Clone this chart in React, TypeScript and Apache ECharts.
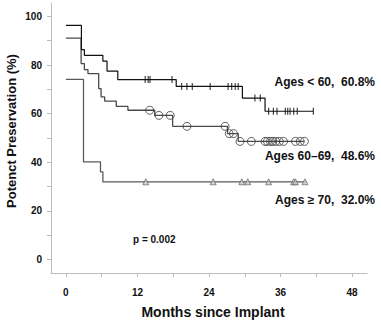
import React, { useEffect, useRef } from "react";
import * as echarts from "echarts";

// ---- data ----
// Ages < 60
const youngStart = 96.3;
const youngDropTimes = [2.6, 3.1, 6.2, 6.9, 8.7, 18.5, 29.6, 33.4];
const youngDropValues = [86.3, 84.0, 81.6, 77.5, 74.0, 71.2, 66.4, 61.0];
const youngEnd = 41.5;
const youngCensor = [13.3, 13.8, 14.1, 17.8, 19.4, 20.3, 21.2, 24.2, 27.2, 27.8, 28.4, 28.9, 31.7, 32.6, 34.0, 34.8, 35.4, 36.8, 37.2, 37.6, 38.2, 38.8, 41.5];

// Ages 60-69
const midStart = 91.1;
const midDropTimes = [2.55, 3.1, 3.7, 5.5, 5.9, 6.5, 8.45, 10.4, 14.9, 17.9, 27.1, 28.9];
const midDropValues = [80.6, 78.1, 76.5, 70.3, 66.9, 65.2, 63.0, 61.4, 59.3, 54.8, 51.8, 48.6];
const midEnd = 40.0;
const midCensor = [14.05, 15.6, 17.5, 20.3, 26.7, 27.4, 28.1, 29.2, 31.1, 33.4, 33.8, 34.3, 34.7, 35.2, 35.8, 36.5, 38.5, 39.3, 40.0];

// Ages >= 70
const oldStart = 74.1;
const oldDropTimes = [2.95, 5.8, 6.2];
const oldDropValues = [40.2, 36.1, 32.0];
const oldEnd = 40.3;
const oldCensor = [13.4, 24.7, 29.5, 30.5, 34.0, 38.2, 38.5, 40.1];

const xTicks = [0, 6, 12, 18, 24, 30, 36, 42, 48];
const xLabels = [0, 12, 24, 36, 48];
const yTicks = [0, 10, 20, 30, 40, 50, 60, 70, 80, 90, 100];
const yLabels = [0, 20, 40, 60, 80, 100];

const legendTexts = ["Ages < 60,  60.8%", "Ages 60\u201369,  48.6%", "Ages \u2265 70,  32.0%"];
const pText = "p = 0.002";
const xTitle = "Months since Implant";
const yTitle = "Potenct Preservation (%)";

const FONT = "Arial, 'Liberation Sans', Helvetica, sans-serif";

function stepPath(start: number, times: number[], values: number[], end: number) {
  const pts: number[][] = [[0, start]];
  let prev = start;
  times.forEach((t, i) => {
    pts.push([t, prev]);
    pts.push([t, values[i]]);
    prev = values[i];
  });
  pts.push([end, prev]);
  return pts;
}

function valueAt(start: number, times: number[], values: number[], t: number) {
  let v = start;
  times.forEach((tt, i) => {
    if (tt <= t) v = values[i];
  });
  return v;
}

export default function App() {
  const ref = useRef<HTMLDivElement>(null);
  useEffect(() => {
    if (!ref.current) return;
    const chart = echarts.init(ref.current, null, { renderer: "svg" });
    const axisColor = "#bdbdbd";
    const labelStyle = { color: "#111", fontWeight: "bold" as const, fontSize: 10, fontFamily: FONT };
    chart.setOption({
      animation: false,
      backgroundColor: "#fff",
      grid: { left: 51, right: 14, top: 3, bottom: 49 },
      xAxis: {
        type: "value",
        min: -2.5,
        max: 50.5,
        axisLine: { show: true, onZero: false, lineStyle: { color: axisColor, width: 1 } },
        axisTick: { show: true, customValues: xTicks, length: 4, lineStyle: { color: axisColor } },
        axisLabel: { customValues: xLabels, margin: 14, ...labelStyle },
        splitLine: { show: false },
      },
      yAxis: {
        type: "value",
        min: -5.5,
        max: 105.5,
        axisLine: { show: true, onZero: false, lineStyle: { color: axisColor, width: 1 } },
        axisTick: { show: true, customValues: yTicks, length: 4, lineStyle: { color: axisColor } },
        axisLabel: { customValues: yLabels, margin: 9, ...labelStyle },
        splitLine: { show: false },
      },
      series: [
        {
          type: "line",
          data: stepPath(oldStart, oldDropTimes, oldDropValues, oldEnd),
          showSymbol: false,
          lineStyle: { color: "#5a5a5a", width: 1.3 },
          z: 2,
        },
        {
          type: "line",
          data: stepPath(midStart, midDropTimes, midDropValues, midEnd),
          showSymbol: false,
          lineStyle: { color: "#4a4a4a", width: 1.3 },
          z: 2,
        },
        {
          type: "line",
          data: stepPath(youngStart, youngDropTimes, youngDropValues, youngEnd),
          showSymbol: false,
          lineStyle: { color: "#111", width: 1.2 },
          z: 3,
        },
        {
          type: "scatter",
          data: youngCensor.map((t) => [t, valueAt(youngStart, youngDropTimes, youngDropValues, t)]),
          symbol: "rect",
          symbolSize: [1.2, 7],
          itemStyle: { color: "#111" },
          z: 4,
        },
        {
          type: "scatter",
          data: midCensor.map((t) => [t, valueAt(midStart, midDropTimes, midDropValues, t)]),
          symbol: "circle",
          symbolSize: 8,
          itemStyle: { color: "rgba(255,255,255,0)", borderColor: "#3a3a3a", borderWidth: 1 },
          z: 4,
        },
        {
          type: "scatter",
          data: oldCensor.map((t) => [t, valueAt(oldStart, oldDropTimes, oldDropValues, t)]),
          symbol: "triangle",
          symbolSize: 6,
          itemStyle: { color: "#c8c8c8", borderColor: "#555", borderWidth: 0.8 },
          z: 4,
        },
      ],
      graphic: [
        {
          type: "text",
          right: 6,
          top: 76,
          style: { text: legendTexts[0], fill: "#111", font: `bold 12px ${FONT}` },
        },
        {
          type: "text",
          right: 6,
          top: 150,
          style: { text: legendTexts[1], fill: "#111", font: `bold 12px ${FONT}` },
        },
        {
          type: "text",
          right: 6,
          top: 194,
          style: { text: legendTexts[2], fill: "#111", font: `bold 12px ${FONT}` },
        },
        {
          type: "text",
          left: 133,
          top: 234,
          style: { text: pText, fill: "#111", font: `bold 10px ${FONT}` },
        },
        {
          type: "text",
          x: 213,
          y: 312,
          style: { text: xTitle, fill: "#111", font: `bold 14px ${FONT}`, align: "center", verticalAlign: "middle" },
        },
        {
          type: "text",
          x: 11,
          y: 131,
          rotation: Math.PI / 2,
          style: { text: yTitle, fill: "#111", font: `bold 13px ${FONT}`, align: "center", verticalAlign: "middle" },
        },
      ],
    });
    return () => chart.dispose();
  }, []);
  return <div ref={ref} style={{ width: 381, height: 322, position: "absolute", left: 0, top: 0 }} />;
}
